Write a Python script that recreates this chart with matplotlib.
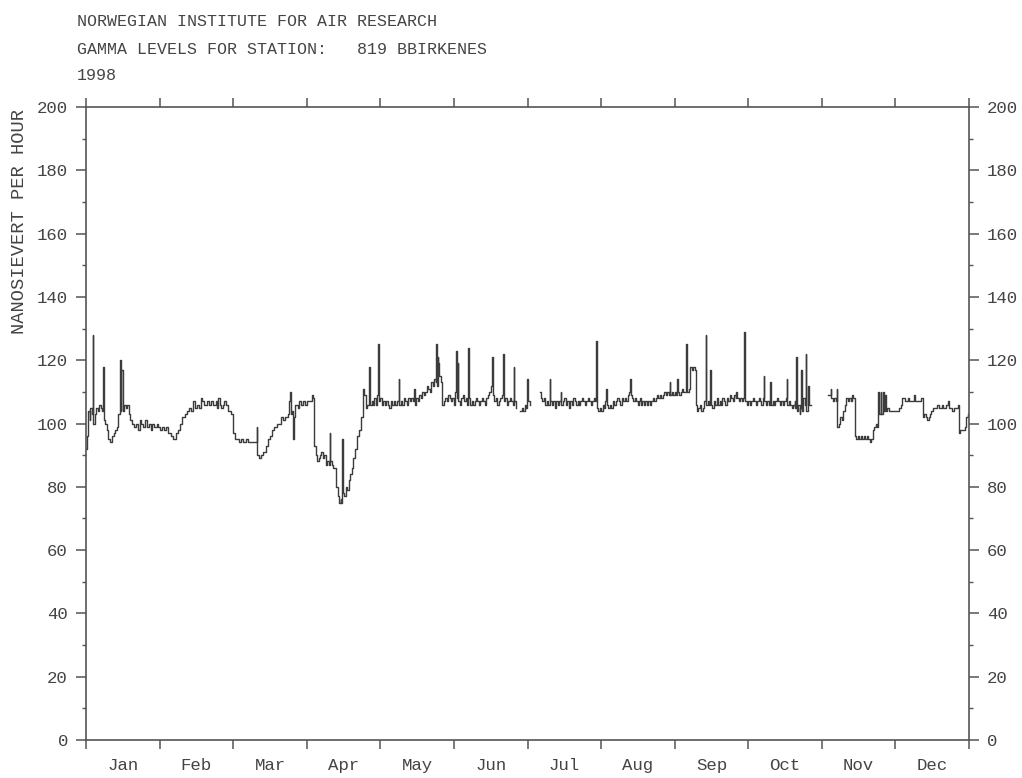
import matplotlib
matplotlib.use("Agg")
import matplotlib.pyplot as plt
import numpy as np

# ---------------- data (x in months since 1 Jan, y in nSv/h) ----------------
month_labels = ["Jan", "Feb", "Mar", "Apr", "May", "Jun",
                "Jul", "Aug", "Sep", "Oct", "Nov", "Dec"]

seg1_month = [
    0.00, 0.02, 0.03, 0.05, 0.06, 0.08, 0.09, 0.10, 0.12, 0.14, 0.16, 0.18, 0.20, 0.22, 0.23, 0.24,
    0.26, 0.28, 0.30, 0.32, 0.34, 0.36, 0.38, 0.40, 0.42, 0.44, 0.46, 0.47, 0.48, 0.50, 0.52, 0.54,
    0.56, 0.58, 0.60, 0.62, 0.65, 0.68, 0.70, 0.73, 0.75, 0.78, 0.80, 0.83, 0.86, 0.88, 0.90, 0.93,
    0.96, 0.98, 1.00, 1.03, 1.06, 1.09, 1.12, 1.15, 1.18, 1.20, 1.22, 1.25, 1.28, 1.31, 1.34, 1.37,
    1.40, 1.43, 1.46, 1.48, 1.51, 1.54, 1.56, 1.58, 1.61, 1.64, 1.67, 1.70, 1.73, 1.76, 1.78, 1.80,
    1.82, 1.84, 1.86, 1.88, 1.90, 1.93, 1.97, 2.00, 2.02, 2.05, 2.08, 2.11, 2.14, 2.17, 2.20, 2.24,
    2.28, 2.31, 2.32, 2.33, 2.35, 2.38, 2.41, 2.44, 2.47, 2.50, 2.53, 2.56, 2.59, 2.62, 2.65, 2.68,
    2.71, 2.74, 2.76, 2.77, 2.78, 2.80, 2.81, 2.82, 2.84, 2.86, 2.88, 2.90, 2.92, 2.95, 2.98, 3.01,
    3.04, 3.07, 3.09, 3.10, 3.12, 3.14, 3.16, 3.18, 3.20, 3.22, 3.24, 3.26, 3.28, 3.30, 3.31, 3.32,
    3.34, 3.36, 3.38, 3.40, 3.42, 3.44, 3.46, 3.47, 3.48, 3.49, 3.51, 3.53, 3.55, 3.57, 3.59, 3.61,
    3.63, 3.65, 3.68, 3.71, 3.74, 3.76, 3.77, 3.78, 3.80, 3.82, 3.84, 3.85, 3.86, 3.88, 3.90, 3.92,
    3.94, 3.96, 3.97, 3.98, 4.00, 4.02, 4.04, 4.06, 4.08, 4.10, 4.12, 4.14, 4.16, 4.18, 4.20, 4.22,
    4.25, 4.26, 4.28, 4.30, 4.32, 4.34, 4.36, 4.38, 4.40, 4.42, 4.44, 4.46, 4.47, 4.49, 4.51, 4.53,
    4.55, 4.57, 4.59, 4.61, 4.63, 4.65, 4.67, 4.69, 4.71, 4.73, 4.75, 4.76, 4.77, 4.78, 4.79, 4.80,
    4.82, 4.84, 4.86, 4.88, 4.90, 4.92, 4.94, 4.96, 4.98, 5.00, 5.02, 5.03, 5.04, 5.05, 5.06, 5.08,
    5.10, 5.12, 5.14, 5.16, 5.18, 5.19, 5.20, 5.22, 5.24, 5.26, 5.28, 5.30, 5.32, 5.34, 5.36, 5.38,
    5.40, 5.42, 5.44, 5.46, 5.48, 5.50, 5.52, 5.53, 5.55, 5.57, 5.59, 5.61, 5.63, 5.65, 5.67, 5.68,
    5.70, 5.72, 5.74, 5.76, 5.78, 5.80, 5.81, 5.82, 5.84, 5.85,
]
seg1_value = [
    92, 96, 104, 101, 105, 103, 128, 100, 103, 105, 104, 106, 105, 104, 118, 101,
    100, 98, 95, 94, 94, 96, 97, 98, 99, 103, 120, 104, 117, 104, 106, 105,
    106, 103, 101, 100, 99, 100, 98, 101, 100, 99, 101, 99, 100, 98, 100, 99,
    100, 99, 98, 99, 98, 99, 97, 96, 95, 95, 97, 98, 100, 102, 103, 104,
    105, 104, 107, 105, 106, 105, 108, 107, 106, 107, 106, 107, 106, 107, 105, 108,
    106, 105, 106, 107, 106, 104, 103, 97, 95, 95, 94, 95, 94, 95, 94, 94,
    94, 94, 99, 90, 89, 90, 91, 93, 95, 96, 98, 99, 100, 100, 102, 101,
    102, 103, 107, 110, 103, 104, 95, 102, 106, 106, 105, 107, 106, 107, 106, 107,
    107, 109, 108, 93, 90, 88, 89, 90, 91, 89, 90, 87, 88, 87, 97, 88,
    87, 86, 86, 80, 77, 75, 76, 75, 95, 78, 77, 80, 79, 82, 84, 86,
    89, 92, 96, 98, 102, 108, 111, 109, 105, 106, 107, 118, 106, 107, 106, 108,
    106, 109, 125, 107, 108, 106, 107, 106, 107, 106, 105, 107, 106, 107, 106, 107,
    114, 106, 107, 106, 108, 107, 106, 108, 107, 108, 107, 111, 106, 108, 107, 109,
    108, 110, 109, 110, 112, 111, 110, 113, 112, 114, 113, 125, 112, 121, 119, 115,
    113, 106, 107, 108, 107, 109, 108, 107, 108, 106, 110, 123, 108, 119, 107, 106,
    108, 109, 107, 108, 106, 124, 108, 106, 107, 106, 107, 108, 107, 106, 107, 108,
    107, 106, 108, 109, 110, 112, 121, 109, 107, 108, 106, 107, 108, 109, 122, 107,
    108, 106, 107, 108, 107, 106, 118, 107, 105, 105,
]

seg2_month = [5.90, 5.92, 5.94, 5.96, 5.98, 5.99, 6.00, 6.01, 6.03]
seg2_value = [104, 105, 104, 106, 105, 114, 112, 107, 106]

seg3_month = [
    6.17, 6.18, 6.20, 6.22, 6.24, 6.26, 6.28, 6.30, 6.31, 6.33, 6.35, 6.37, 6.39, 6.41, 6.43, 6.45,
    6.46, 6.48, 6.50, 6.52, 6.54, 6.56, 6.58, 6.60, 6.62, 6.64, 6.66, 6.68, 6.70, 6.72, 6.74, 6.76,
    6.78, 6.80, 6.82, 6.84, 6.86, 6.88, 6.90, 6.92, 6.93, 6.94, 6.96, 6.98, 7.00, 7.02, 7.04, 7.06,
    7.07, 7.08, 7.10, 7.12, 7.14, 7.16, 7.18, 7.20, 7.22, 7.24, 7.26, 7.28, 7.30, 7.32, 7.34, 7.36,
    7.38, 7.39, 7.40, 7.42, 7.44, 7.46, 7.48, 7.50, 7.52, 7.53, 7.54, 7.56, 7.58, 7.60, 7.62, 7.64,
    7.66, 7.68, 7.70, 7.72, 7.74, 7.76, 7.78, 7.80, 7.82, 7.84, 7.86, 7.88, 7.90, 7.92, 7.93, 7.94,
    7.96, 7.98, 8.00, 8.02, 8.03, 8.04, 8.06, 8.08, 8.10, 8.12, 8.14, 8.15, 8.16, 8.17, 8.19, 8.21,
    8.23, 8.25, 8.27, 8.29, 8.30, 8.32, 8.34, 8.36, 8.38, 8.40, 8.42, 8.43, 8.45, 8.47, 8.48, 8.49,
    8.51, 8.53, 8.55, 8.57, 8.59, 8.61, 8.63, 8.65, 8.67, 8.69, 8.71, 8.73, 8.75, 8.77, 8.79, 8.81,
    8.83, 8.84, 8.85, 8.87, 8.89, 8.91, 8.93, 8.94, 8.95, 8.96, 8.98, 9.00, 9.02, 9.04, 9.06, 9.08,
    9.10, 9.12, 9.14, 9.16, 9.18, 9.20, 9.21, 9.22, 9.24, 9.26, 9.28, 9.30, 9.31, 9.33, 9.35, 9.37,
    9.39, 9.41, 9.43, 9.45, 9.47, 9.49, 9.51, 9.52, 9.53, 9.55, 9.57, 9.59, 9.61, 9.63, 9.64, 9.65,
    9.66, 9.68, 9.70, 9.71, 9.72, 9.73, 9.75, 9.77, 9.78, 9.79, 9.81, 9.83, 9.85,
]
seg3_value = [
    110, 108, 107, 108, 106, 107, 106, 114, 107, 106, 107, 105, 107, 106, 107, 110,
    106, 107, 108, 106, 107, 105, 107, 106, 108, 107, 106, 107, 106, 107, 108, 107,
    106, 107, 108, 107, 106, 107, 108, 107, 126, 105, 104, 105, 104, 106, 105, 107,
    111, 106, 105, 106, 105, 107, 106, 107, 108, 107, 106, 108, 107, 108, 107, 109,
    110, 114, 109, 108, 107, 108, 107, 106, 107, 108, 106, 107, 106, 107, 106, 107,
    106, 107, 108, 107, 108, 109, 108, 109, 108, 109, 110, 109, 110, 109, 113, 109,
    110, 109, 110, 109, 114, 110, 109, 110, 111, 110, 110, 111, 125, 110, 111, 118,
    117, 118, 117, 106, 104, 105, 106, 104, 105, 107, 128, 106, 107, 106, 117, 106,
    105, 107, 106, 108, 106, 107, 106, 108, 107, 106, 108, 107, 109, 108, 107, 109,
    108, 110, 108, 107, 108, 107, 108, 129, 122, 107, 106, 107, 106, 107, 108, 107,
    106, 107, 108, 107, 106, 108, 115, 107, 106, 107, 106, 113, 106, 107, 106, 107,
    108, 107, 106, 107, 106, 107, 108, 114, 106, 107, 106, 105, 106, 107, 105, 121,
    104, 106, 103, 105, 117, 104, 108, 106, 122, 104, 112, 106, 106,
]

seg4_month = [
    10.08, 10.10, 10.12, 10.13, 10.15, 10.17, 10.19, 10.20, 10.21, 10.23, 10.25, 10.27, 10.29, 10.31,
    10.33, 10.35, 10.37, 10.39, 10.41, 10.43, 10.45, 10.47, 10.49, 10.51, 10.53, 10.55, 10.57, 10.59,
    10.61, 10.63, 10.65, 10.67, 10.69, 10.71, 10.73, 10.75, 10.77, 10.78, 10.80, 10.81, 10.83, 10.84,
    10.86, 10.87, 10.89, 10.91, 10.93, 10.95, 10.97, 10.99, 11.01, 11.03, 11.05, 11.07, 11.09, 11.11,
    11.13, 11.15, 11.17, 11.19, 11.21, 11.23, 11.25, 11.27, 11.29, 11.31, 11.33, 11.35, 11.37, 11.39,
    11.41, 11.43, 11.45, 11.47, 11.49, 11.51, 11.53, 11.55, 11.57, 11.59, 11.61, 11.63, 11.65, 11.67,
    11.69, 11.71, 11.73, 11.75, 11.77, 11.79, 11.81, 11.83, 11.85, 11.87, 11.88, 11.90, 11.92, 11.94,
    11.96, 11.98, 11.99,
]
seg4_value = [
    109, 109, 111, 108, 107, 108, 107, 111, 99, 100, 102, 101, 104, 106,
    108, 107, 108, 107, 109, 108, 96, 95, 96, 95, 96, 95, 96, 95,
    96, 95, 94, 95, 98, 99, 100, 99, 110, 103, 110, 103, 110, 104,
    109, 104, 105, 104, 104, 104, 104, 104, 104, 104, 105, 106, 108, 108,
    107, 107, 108, 107, 107, 107, 109, 107, 107, 107, 107, 108, 102, 103,
    102, 101, 102, 103, 104, 105, 105, 105, 106, 105, 105, 106, 105, 105,
    106, 107, 105, 105, 104, 105, 105, 105, 106, 97, 98, 98, 98, 99,
    102, 103, 103,
]

y_major = [0, 20, 40, 60, 80, 100, 120, 140, 160, 180, 200]

# ---------------- figure ----------------
FONT = ["Liberation Mono", "DejaVu Sans Mono"]
TXT = "#444444"
AX = "#555555"
PX = 72.0 / 100.0  # points per pixel at 100 dpi

fig = plt.figure(figsize=(10.22, 7.78), dpi=100)
ax = fig.add_axes([86 / 1022, 1 - 740 / 778, (969 - 86) / 1022, (740 - 107) / 778])

line_kw = dict(color="#3c3c3c", linewidth=1.0)
for xs, ys in [(seg1_month, seg1_value), (seg2_month, seg2_value),
               (seg3_month, seg3_value), (seg4_month, seg4_value)]:
    ax.plot(xs, ys, drawstyle="steps-post", **line_kw)

ax.set_xlim(0, 12)
ax.set_ylim(0, 200)

for s in ax.spines.values():
    s.set_color(AX)
    s.set_linewidth(1.2)

# x axis: month boundaries as ticks (bottom + top), names centred between
ax.set_xticks(range(13))
ax.set_xticklabels([])
ax.set_xticks([i + 0.5 for i in range(12)], minor=True)
ax.set_xticklabels(month_labels, minor=True, family=FONT, fontsize=12.5, color=TXT)
ax.tick_params(axis="x", which="major", direction="out", length=9 * PX, width=1.1,
               color=AX, top=True, bottom=True)
ax.tick_params(axis="x", which="minor", length=0, pad=18 * PX, top=False)

# y axis: both sides
ax.set_yticks(y_major)
ax.set_yticks([v + 10 for v in y_major[:-1]], minor=True)
ax.tick_params(axis="y", which="major", direction="out", length=10 * PX, width=1.1,
               color=AX, left=True, right=True, labelleft=True, labelright=True,
               labelsize=12.5, labelcolor=TXT, pad=8 * PX)
ax.tick_params(axis="y", which="minor", direction="out", length=4 * PX, width=1.0,
               color=AX, left=True, right=True)
for lab in ax.get_yticklabels():
    lab.set_family(FONT)

# titles and axis label
fig.text(77 / 1022, 1 - 22 / 778, "NORWEGIAN INSTITUTE FOR AIR RESEARCH", family=FONT,
         fontsize=12, color=TXT, ha="left", va="center")
fig.text(77 / 1022, 1 - 50 / 778, "GAMMA LEVELS FOR STATION:   819 BBIRKENES", family=FONT,
         fontsize=12, color=TXT, ha="left", va="center")
fig.text(77 / 1022, 1 - 75 / 778, "1998", family=FONT,
         fontsize=12, color=TXT, ha="left", va="center")
fig.text(20 / 1022, 1 - 222 / 778, "NANOSIEVERT PER HOUR", family=FONT, fontsize=13.5,
         color=TXT, rotation=90, ha="center", va="center")

fig.savefig("out.png", dpi=100, facecolor="white")
